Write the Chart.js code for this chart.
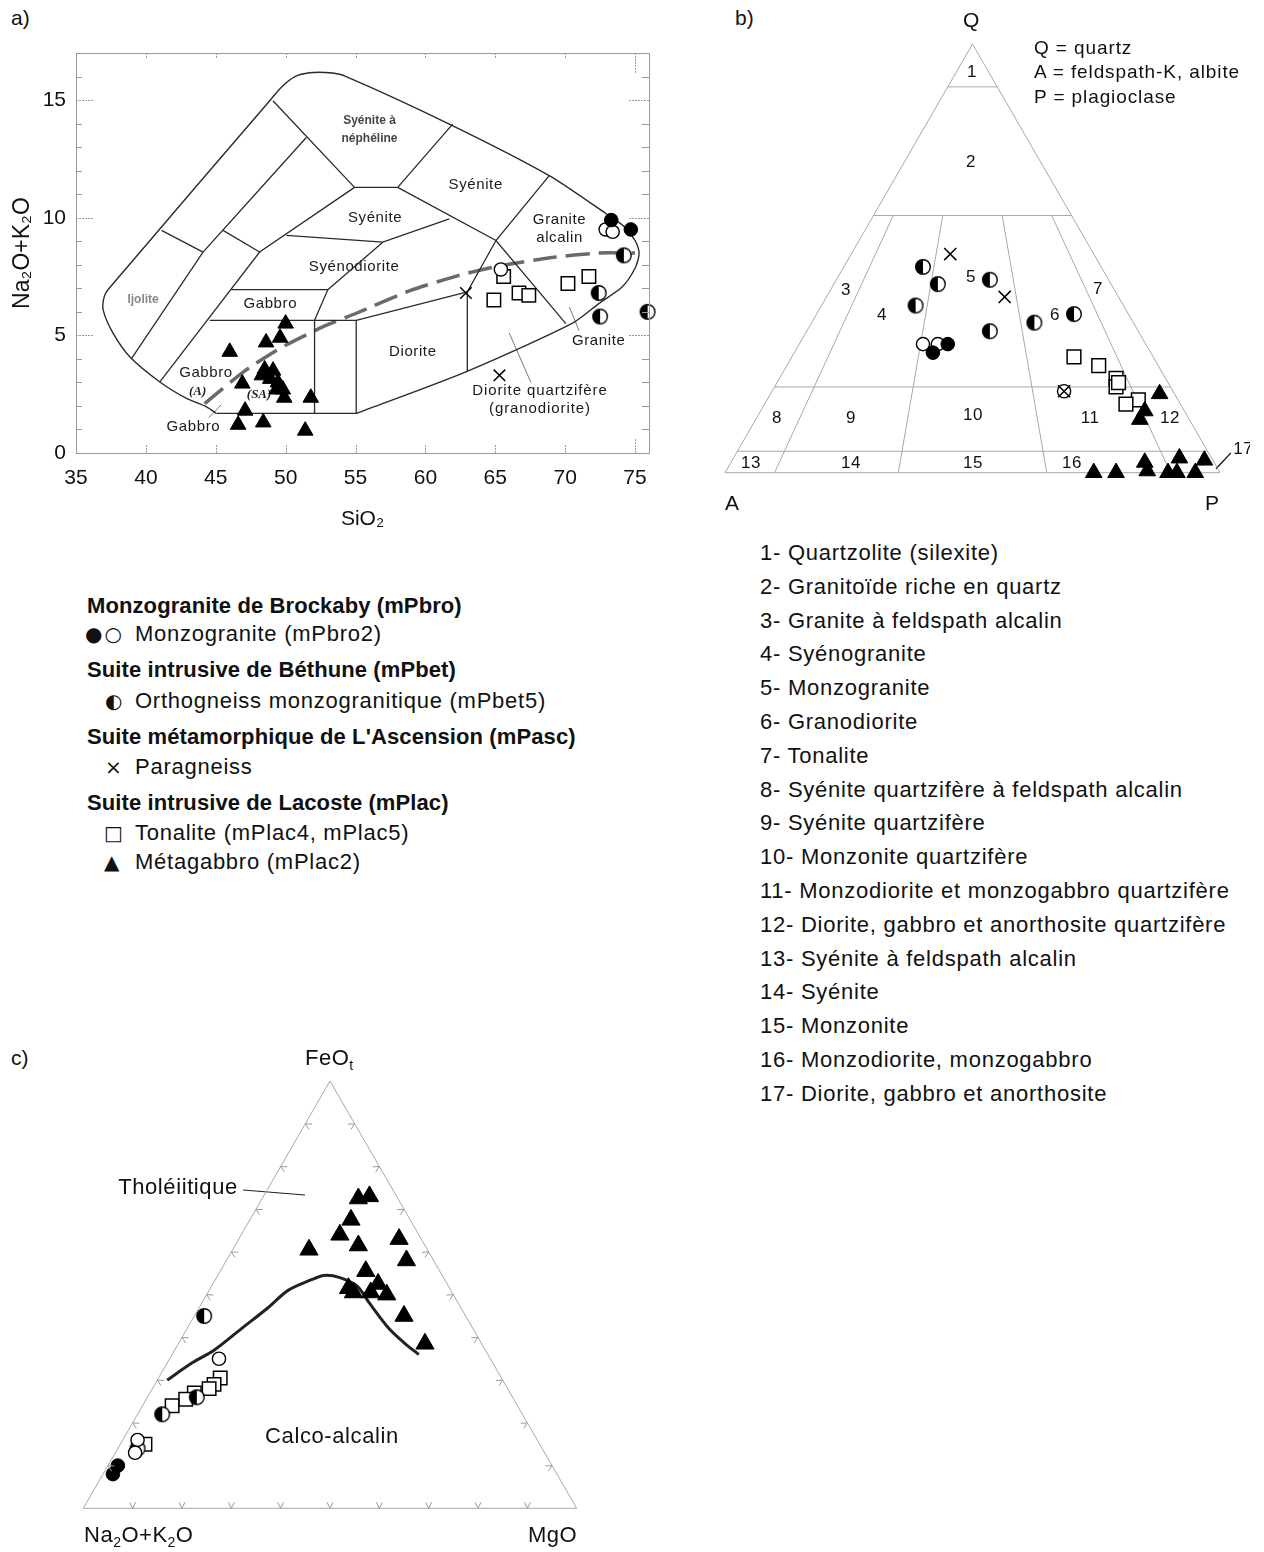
<!DOCTYPE html>
<html><head><meta charset="utf-8">
<script src="https://cdn.jsdelivr.net/npm/chart.js@4.4.1/dist/chart.umd.min.js"></script>
<style>
body{margin:0;background:#fff;width:1264px;height:1552px;position:relative;font-family:"Liberation Sans",Arial,"DejaVu Sans",sans-serif;color:#111;overflow:hidden}
.t{position:absolute;white-space:nowrap;line-height:26px}
canvas{position:absolute}
.b{font-weight:bold;font-size:22px;letter-spacing:0.1px}
.r{font-size:22px;letter-spacing:0.75px}
.sym{font-family:"DejaVu Sans",sans-serif;font-size:20px}
</style></head><body>

<div class="t" style="left:11px;top:5px;font-size:21px">a)</div>
<div class="t" style="left:735px;top:5px;font-size:21px">b)</div>
<div class="t" style="left:11px;top:1045px;font-size:21px">c)</div>

<canvas id="tas" width="660" height="540" style="left:0;top:0"></canvas>
<canvas id="qap" width="550" height="470" style="left:700px;top:30px"></canvas>
<canvas id="afm" width="540" height="470" style="left:60px;top:1060px"></canvas>

<!-- QAP vertex labels & definitions -->
<div class="t" style="left:963px;top:7px;font-size:21px">Q</div>
<div class="t" style="left:725px;top:490px;font-size:21px">A</div>
<div class="t" style="left:1205px;top:490px;font-size:21px">P</div>
<div class="t" style="left:1034px;top:35px;font-size:19px;letter-spacing:0.9px">Q = quartz</div>
<div class="t" style="left:1034px;top:59px;font-size:19px;letter-spacing:0.9px">A = feldspath-K, albite</div>
<div class="t" style="left:1034px;top:84px;font-size:19px;letter-spacing:0.9px">P = plagioclase</div>

<!-- AFM vertex labels -->
<div class="t" style="left:305px;top:1045px;font-size:22px;letter-spacing:0.5px">FeO<sub style="font-size:14px">t</sub></div>
<div class="t" style="left:84px;top:1522px;font-size:22px;letter-spacing:0.5px">Na<sub style="font-size:14px">2</sub>O+K<sub style="font-size:14px">2</sub>O</div>
<div class="t" style="left:528px;top:1522px;font-size:22px;letter-spacing:0.5px">MgO</div>

<!-- Legend -->
<div id="legend" style="position:absolute;left:0;top:0"></div>
<div id="list" class="r" style="position:absolute;left:760px;top:536px;line-height:33.8px"></div>

<script>
// ================= DATA =================
// Panel a) TAS : [SiO2, Na2O+K2O]
const tasSiO2Ticks = [35,40,45,50,55,60,65,70,75];
const tasAlkTicks = [0,5,10,15];
const tasBrockabyFilled = [[73.3,9.9],[74.7,9.5]];
const tasBrockabyOpen = [[72.9,9.5],[73.4,9.4],[65.4,7.8]];
const tasBethune = [[74.2,8.4],[72.4,6.8],[72.5,5.8],[75.9,6.0]];
const tasParagneiss = [[62.9,6.8],[65.3,3.3]];
const tasTonalite = [[65.6,7.5],[64.9,6.5],[66.7,6.8],[67.4,6.7],[70.2,7.2],[71.7,7.5]];
const tasMetagabbro = [[50.0,5.5],[49.6,4.9],[48.6,4.7],[46.0,4.3],[46.9,2.95],[47.1,1.8],[46.6,1.2],[48.4,1.3],[51.4,0.95],[51.8,2.35],
  [48.5,3.55],[49.1,3.5],[48.3,3.3],[48.9,3.15],[49.45,3.0],[49.35,2.7],[49.8,2.7],[49.9,2.35]];
// field boundaries (Cox et al. 1979, plutonic version)
const tasOuter = [[45.05,1.68],[44.34,1.96],[42.91,2.32],[41.0,3.02],[38.86,4.08],[37.66,5.08],[36.95,6.06],[37.0,6.6],[37.3,6.95],
  [48.86,14.97],[49.71,15.56],[50.64,15.99],[51.71,16.16],[53.14,16.16],[54.21,16.03],[61.71,13.98],[68.86,11.79],[72.91,10.18],
  [74.21,9.63],[75.0,9.03],[75.29,8.48],[75.0,7.85],[74.07,7.05],[72.43,6.36],[70.5,5.51],[62.9,3.45],[55.05,1.68]];
const tasLines = [
  [[55.05,1.68],[45.05,1.68]],
  [[49.09,14.97],[54.93,11.29]],
  [[54.93,11.29],[58.02,11.29]],
  [[58.02,11.29],[61.95,13.98]],
  [[58.02,11.29],[65.05,9.03],[70.05,5.5]],
  [[68.86,11.79],[65.05,9.03],[63.0,6.85],[63.0,3.45]],
  [[51.48,13.41],[44.09,8.54],[38.98,4.02]],
  [[41.12,9.46],[44.09,8.54]],
  [[54.93,11.29],[48.14,8.54],[41.0,3.02]],
  [[45.52,9.46],[48.14,8.54]],
  [[50.05,9.25],[56.95,8.96],[61.71,9.95]],
  [[56.95,8.96],[53.02,6.94]],
  [[46.12,6.94],[53.02,6.94],[52.07,5.64]],
  [[44.57,5.64],[55.05,5.64]],
  [[52.07,5.64],[52.07,1.68]],
  [[55.05,5.64],[55.05,1.68]],
  [[55.05,5.64],[63.0,6.85]],
  [[70.3,6.2],[71.0,5.2]],
  [[66.0,5.1],[67.55,3.0]],
  [[44.5,1.5],[45.4,2.05]]
];
const tasDivider = [[44.2,2.1],[47.1,3.5],[49.6,4.45],[52.8,5.4],[55.1,5.95],[58.9,6.9],[62.4,7.55],[65.3,7.95],[68.9,8.3],[72.4,8.5],[75.0,8.5]];
const tasFieldNames = [
  ["Syénite à",56.0,14.12,"b12"],["néphéline",56.0,13.36,"b12"],["Syénite",63.6,11.41,"r"],["Syénite",56.4,10.0,"r"],
  ["Granite",69.6,9.92,"r"],["alcalin",69.6,9.16,"r"],["Syénodiorite",54.9,7.93,"r"],["Ijolite",39.8,6.53,"g"],
  ["Gabbro",48.9,6.32,"r"],["Diorite",59.1,4.28,"r"],["Gabbro",44.3,3.39,"r"],["(A)",43.7,2.59,"i"],["(SA)",48.1,2.46,"i"],
  ["Gabbro",43.4,1.10,"r"],["Granite",72.4,4.75,"r"],["Diorite quartzifère",68.2,2.63,"r14"],["(granodiorite)",68.2,1.87,"r14"]
];

// Panel b) QAP : [Q, A, P] (%)
const qapBrockabyFilled = [[30,40,30],[28,44,28]];
const qapBrockabyOpen = [[30,45,25],[30,42,28],[19,22,59]];
const qapBethune = [[48,36,16],[44,35,21],[39,42,19],[45,24,31],[33,30,37],[35,20,45],[37,11,52]];
const qapParagneiss = [[51,29,20],[41,23,36],[19,22,59]];
const qapTonalite = [[27,16,57],[25,12,63],[22,10,68],[20,11,69],[21,10,69],[17,8,75],[16,11,73]];
const qapMetagabbro = [[18.4,3,78.6],[14.4,8,77.6],[12.4,10,77.6],[0,25.5,74.5],[0,21,79],[2.4,14,83.6],[0.4,14.5,85.1],
  [0,10.5,89.5],[0,8.7,91.3],[3.4,6.5,90.1],[0,5,95],[2.9,1.7,95.4]];
const qapFrame = [[0,100,0],[0,0,100],[100,0,0],[0,100,0]];
const qapBoundaries = [
  [[90,10,0],[90,0,10]],[[60,40,0],[60,0,40]],[[20,80,0],[20,0,80]],[[5,95,0],[5,0,95]],
  [[60,36,4],[0,90,10]],[[60,26,14],[0,65,35]],[[60,14,26],[0,35,65]],[[60,4,36],[0,10,90]]
];
const qapFieldNumbers = [["1",0.499,0.8095],["2",0.497,0.6277],["3",0.2444,0.3691],["4",0.3172,0.3186],["5",0.497,0.3954],
  ["6",0.6667,0.3186],["7",0.7535,0.3711],["8",0.105,0.1105],["9",0.2545,0.1105],["10",0.501,0.1166],["11",0.7374,0.1105],
  ["12",0.899,0.1105],["13",0.0525,0.0196],["14",0.2545,0.0196],["15",0.501,0.0196],["16",0.701,0.0196],["17",1.047,0.048]];
const qapRockNames = ["Quartzolite (silexite)","Granitoïde riche en quartz","Granite à feldspath alcalin","Syénogranite","Monzogranite",
  "Granodiorite","Tonalite","Syénite quartzifère à feldspath alcalin","Syénite quartzifère","Monzonite quartzifère",
  "Monzodiorite et monzogabbro quartzifère","Diorite, gabbro et anorthosite quartzifère","Syénite à feldspath alcalin","Syénite",
  "Monzonite","Monzodiorite, monzogabbro","Diorite, gabbro et anorthosite"];

// Panel c) AFM : [FeOt, Na2O+K2O, MgO] (%)
const afmBrockabyFilled = [[10,88,2],[8,90,2]];
const afmBrockabyOpen = [[35,55,10],[16,81,3],[13,83,4]];
const afmBethune = [[45,53,2],[26,64,10],[22,73,5],[14,82,4]];
const afmTonalite = [[30.5,57,12.5],[29,59,12],[28,60.5,11.5],[27,64,9],[25.5,66.5,8],[24,70,6],[15,80,5]];
const afmMetagabbro = [[72.5,8,19.5],[73,5.5,21.5],[67.5,12,20.5],[64,16,20],[61.5,13.5,25],[60.5,24,15.5],[63,4.5,32.5],
  [58,5.5,36.5],[55.5,15,29.5],[51.5,20.5,28],[50.5,20,29.5],[52.5,14,33.5],[50.5,16.5,33],[50,13.5,36.5],[45,12.5,42.5],[38.5,11.5,50]];
const afmBoundary = [[30,68,2],[34,61,5],[37,55,8],[42,47,11],[47,39,14],[51,33,16],[53.5,27,19.5],[54.5,24,21.5],[54,21,25],
  [52,18.5,29.5],[48,18,34],[42,17,41],[38.5,15.5,46],[36,14,50]];
const afmFrame = [[0,100,0],[0,0,100],[100,0,0],[0,100,0]];

// legend texts
const legendRows = [
  {y:606, b:"Monzogranite de Brockaby (mPbro)"},
  {y:634, s:"●&#8202;○", sx:85, t:"Monzogranite (mPbro2)"},
  {y:670, b:"Suite intrusive de Béthune (mPbet)"},
  {y:701, s:"◐", sx:105, t:"Orthogneiss monzogranitique (mPbet5)"},
  {y:737, b:"Suite métamorphique de L'Ascension (mPasc)"},
  {y:767, s:"×", sx:105, t:"Paragneiss"},
  {y:803, b:"Suite intrusive de Lacoste (mPlac)"},
  {y:833, s:"□", sx:104, t:"Tonalite (mPlac4, mPlac5)"},
  {y:862, s:"▲", sx:104, t:"Métagabbro (mPlac2)"}
];

// ================= HELPERS =================
const SQ3 = Math.sqrt(3)/2;
const xy = a => ({x:a[0], y:a[1]});
// QAP: A left, P right, Q top
const qap = a => { const s=a[0]+a[1]+a[2]; const q=a[0]/s, p=a[2]/s; return {x:p+q/2, y:q*SQ3}; };
// AFM: A left, M right, F top
const afm = a => { const s=a[0]+a[1]+a[2]; const f=a[0]/s, m=a[2]/s; return {x:m+f/2, y:f*SQ3}; };

function halfCircle(d){
  const c=document.createElement('canvas'); const n=Math.ceil(d)+2; c.width=c.height=n;
  const g=c.getContext('2d'); const r=d/2-0.7, cx=n/2;
  g.fillStyle='#fff'; g.beginPath(); g.arc(cx,cx,r,0,2*Math.PI); g.fill();
  g.fillStyle='#000'; g.beginPath(); g.moveTo(cx,cx); g.arc(cx,cx,r,Math.PI/2,3*Math.PI/2); g.closePath(); g.fill();
  g.strokeStyle='#000'; g.lineWidth=1.4; g.beginPath(); g.arc(cx,cx,r,0,2*Math.PI); g.stroke();
  return c;
}
const HALF = halfCircle(16);

function ptsDS(data, kind, size){
  const base = {data, showLine:false, clip:false, order:0, pointBorderColor:'#000'};
  const sz = size || 1;
  if(kind==='filled') return {...base, pointStyle:'circle', pointRadius:6.8*sz, pointBackgroundColor:'#000', pointBorderWidth:1};
  if(kind==='open') return {...base, pointStyle:'circle', pointRadius:6.6*sz, pointBackgroundColor:'#fff', pointBorderWidth:1.4};
  if(kind==='half') return {...base, pointStyle:HALF, pointRadius:8};
  if(kind==='square') return {...base, pointStyle:'rect', pointRadius:9.5*sz, pointBackgroundColor:'#fff', pointBorderWidth:1.5};
  if(kind==='tri') return {...base, pointStyle:'triangle', pointRadius:10*sz, pointBackgroundColor:'#000', pointBorderWidth:1};
  if(kind==='x') return {...base, pointStyle:'crossRot', pointRadius:9*sz, pointBorderWidth:1.5, pointBackgroundColor:'#000'};
}
function lineDS(data, color, width, extra){
  return Object.assign({data, showLine:true, clip:false, order:10, pointRadius:0, borderColor:color, borderWidth:width, fill:false, tension:0}, extra||{});
}

const annot = {
  id:'annot',
  beforeDatasetsDraw(chart, args, opts){
    const {ctx} = chart, xs=chart.scales.x, ys=chart.scales.y;
    ctx.save(); ctx.textAlign='center'; ctx.textBaseline='middle';
    (opts.items||[]).forEach(it=>{
      ctx.font=it.font; ctx.fillStyle=it.color||'#111';
      try{ ctx.letterSpacing = it.ls || '0px'; }catch(e){}
      ctx.fillText(it.text, xs.getPixelForValue(it.x), ys.getPixelForValue(it.y));
    });
    ctx.restore();
  }
};

const tasFrame = {
  id:'tasFrame',
  afterDraw(chart){
    const {ctx, chartArea:ca, scales:{x,y}} = chart;
    ctx.save(); ctx.strokeStyle='#9a9a9a'; ctx.lineWidth=1;
    ctx.strokeRect(ca.left+0.5, ca.top+0.5, ca.right-ca.left, ca.bottom-ca.top);
    const L=(a,b,c,d)=>{ctx.beginPath();ctx.moveTo(a,b);ctx.lineTo(c,d);ctx.stroke();};
    for(let v=1; v<17; v++){
      const py=Math.round(y.getPixelForValue(v))+0.5; const major=v%5===0;
      ctx.setLineDash(major?[2,1]:[]);
      const Ll = major?18:6, Lr = major?20:7;
      L(ca.left,py,ca.left+Ll,py); L(ca.right,py,ca.right-Lr,py);
    }
    ctx.setLineDash([2,1]);
    tasSiO2Ticks.forEach(v=>{ if(v===35) return; const px=Math.round(x.getPixelForValue(v))+0.5;
      L(px,ca.bottom,px,ca.bottom-(v===75?14:8)); L(px,ca.top,px,ca.top+(v===75?20:6)); });
    ctx.restore();
  }
};

const ternTicks = {
  id:'ternTicks',
  afterDatasetsDraw(chart){
    const {ctx, scales:{x,y}} = chart;
    const P = (a)=>{const c=afm(a); return [x.getPixelForValue(c.x), y.getPixelForValue(c.y)];};
    const edges = [ [[0,100,0],[0,0,100]], [[0,0,100],[100,0,0]], [[100,0,0],[0,100,0]] ];
    const cen = P([33.3,33.3,33.4]);
    ctx.save(); ctx.strokeStyle='#999'; ctx.lineWidth=1;
    edges.forEach(([a,b])=>{
      const pa=P(a), pb=P(b); const tx=(pb[0]-pa[0]), ty=(pb[1]-pa[1]); const len=Math.hypot(tx,ty); const ux=tx/len, uy=ty/len;
      let nx=-uy, ny=ux; const mx=(pa[0]+pb[0])/2, my=(pa[1]+pb[1])/2; if((cen[0]-mx)*nx+(cen[1]-my)*ny<0){nx=-nx;ny=-ny;}
      for(let i=1;i<10;i++){
        const px=pa[0]+tx*i/10, py=pa[1]+ty*i/10;
        ctx.beginPath(); ctx.moveTo(px+nx*6-ux*3, py+ny*6-uy*3); ctx.lineTo(px,py); ctx.lineTo(px+nx*6+ux*3, py+ny*6+uy*3); ctx.stroke();
      }
    });
    ctx.restore();
  }
};

const common = {responsive:false, animation:false, events:[], plugins:{legend:{display:false}, tooltip:{enabled:false}}};

// ================= PANEL A : TAS =================
const FONT = '"Liberation Sans", Arial, sans-serif';
const styleFont = {r:`15px ${FONT}`, r14:`15px ${FONT}`, b12:`bold 12px ${FONT}`, g:`bold 12px ${FONT}`, i:`bold italic 13px "Liberation Serif", serif`};
const styleColor = {r:'#1a1a1a', r14:'#1a1a1a', b12:'#444', g:'#888', i:'#222'};
const styleLS = {r:'0.6px', r14:'0.9px', b12:'0px', g:'0px', i:'0px'};

const tasDatasets = [
  ptsDS(tasParagneiss.map(xy),'x',0.9),
  ptsDS(tasMetagabbro.map(xy),'tri',0.9),
  ptsDS(tasBrockabyFilled.map(xy),'filled'),
  ptsDS(tasBrockabyOpen.map(xy),'open'),
  ptsDS(tasBethune.map(xy),'half'),
  ptsDS(tasTonalite.map(xy),'square'),
  lineDS(tasOuter.map(xy),'#2a2a2a',1.4,{tension:0.25}),
  ...tasLines.map(l=>lineDS(l.map(xy),'#2a2a2a',1.3)),
  lineDS(tasDivider.map(xy),'#6a6a6a',3.5,{borderDash:[24,9], tension:0.2})
];
// leader lines thinner
tasDatasets.slice(-4,-1).forEach(d=>{d.borderWidth=0.8; d.borderColor='#555';});

new Chart(document.getElementById('tas'), {
  type:'scatter',
  data:{datasets:tasDatasets},
  options:{...common,
    layout:{padding:{left:0, top:53, right:10, bottom:0}},
    plugins:{...common.plugins,
      annot:{items:tasFieldNames.map(f=>({text:f[0], x:f[1], y:f[2], font:styleFont[f[3]], color:styleColor[f[3]], ls:styleLS[f[3]]}))}},
    scales:{
      x:{type:'linear', min:35, max:76, grid:{display:false, drawTicks:false}, border:{display:false},
         afterBuildTicks:s=>{s.ticks=tasSiO2Ticks.map(v=>({value:v}));},
         afterFit:s=>{s.height=87;},
         ticks:{padding:13, color:'#111', font:{size:21, family:FONT}},
         title:{display:true, text:'SiO₂', color:'#111', font:{size:21, family:FONT}, padding:{top:0,bottom:8}}},
      y:{type:'linear', min:0, max:17, grid:{display:false, drawTicks:false}, border:{display:false},
         afterBuildTicks:s=>{s.ticks=tasAlkTicks.map(v=>({value:v}));},
         afterFit:s=>{s.width=76;},
         ticks:{padding:10, color:'#111', font:{size:21, family:FONT}},
         title:{display:true, text:'Na₂O+K₂O', color:'#111', font:{size:23, family:FONT}, padding:{top:9,bottom:0}}}
    }
  },
  plugins:[annot, tasFrame]
});

// ================= PANEL B : QAP =================
const qapDatasets = [
  ptsDS(qapParagneiss.map(qap),'x',0.95),
  ptsDS(qapMetagabbro.map(qap),'tri',0.96),
  ptsDS(qapBrockabyFilled.map(qap),'filled'),
  ptsDS(qapBrockabyOpen.map(qap),'open'),
  ptsDS(qapBethune.map(qap),'half'),
  ptsDS(qapTonalite.map(qap),'square',1.02),
  lineDS(qapFrame.map(qap),'#a8a8a8',1),
  ...qapBoundaries.map(l=>lineDS(l.map(qap),'#a8a8a8',1)),
  lineDS([{x:0.992,y:0.008},{x:1.022,y:0.040}],'#111',1.3)
];
new Chart(document.getElementById('qap'), {
  type:'scatter',
  data:{datasets:qapDatasets},
  options:{...common,
    layout:{padding:{left:25, top:14, right:30, bottom:27.3}},
    plugins:{...common.plugins,
      annot:{items:qapFieldNumbers.map(f=>({text:f[0], x:f[1], y:f[2], font:`17px ${FONT}`, color:'#111', ls:'0.5px'}))}},
    scales:{x:{type:'linear', min:0, max:1, display:false}, y:{type:'linear', min:0, max:SQ3, display:false}}
  },
  plugins:[annot]
});

// ================= PANEL C : AFM =================
const afmDatasets = [
  ptsDS(afmMetagabbro.map(afm),'tri',1.05),
  ptsDS(afmBrockabyFilled.map(afm),'filled'),
  ptsDS(afmBrockabyOpen.map(afm),'open'),
  ptsDS(afmBethune.map(afm),'half'),
  ptsDS(afmTonalite.map(afm),'square',1.0),
  lineDS(afmFrame.map(afm),'#a8a8a8',1),
  lineDS(afmBoundary.map(afm),'#222',3,{tension:0.3}),
  lineDS([{x:0.3237,y:0.6451},{x:0.4493,y:0.635}],'#222',1.2)
];
new Chart(document.getElementById('afm'), {
  type:'scatter',
  data:{datasets:afmDatasets},
  options:{...common,
    layout:{padding:{left:23.3, top:21, right:23.3, bottom:21.7}},
    plugins:{...common.plugins,
      annot:{items:[{text:'Tholéiitique', x:0.1919, y:0.6492, font:`22px ${FONT}`, ls:'0.6px'},{text:'Calco-alcalin', x:0.504, y:0.1445, font:`22px ${FONT}`, ls:'0.6px'}]}},
    scales:{x:{type:'linear', min:0, max:1, display:false}, y:{type:'linear', min:0, max:SQ3, display:false}}
  },
  plugins:[annot, ternTicks]
});

// ================= TEXT BLOCKS =================
const lg = document.getElementById('legend');
legendRows.forEach(r=>{
  if(r.b){ lg.insertAdjacentHTML('beforeend', `<div class="t b" style="left:87px;top:${r.y-13}px">${r.b}</div>`); }
  else {
    lg.insertAdjacentHTML('beforeend', `<div class="t sym" style="left:${r.sx}px;top:${r.y-13}px">${r.s}</div>`);
    lg.insertAdjacentHTML('beforeend', `<div class="t r" style="left:135px;top:${r.y-13}px">${r.t}</div>`);
  }
});
document.getElementById('list').innerHTML = qapRockNames.map((n,i)=>`<div>${i+1}- ${n}</div>`).join('');
</script>
</body></html>
